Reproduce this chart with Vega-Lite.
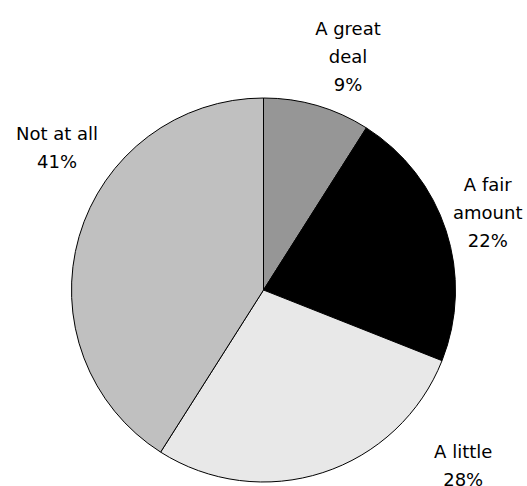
{
  "$schema": "https://vega.github.io/schema/vega-lite/v6.json",
  "width": 527,
  "height": 580,
  "autosize": "none",
  "padding": 0,
  "background": "white",
  "config": {"view": {"stroke": null}},
  "data": {"values": [
    {"answer": "A great deal", "pct": 9, "rank": 1, "label": "A great\ndeal\n9%"},
    {"answer": "A fair amount", "pct": 22, "rank": 2, "label": "A fair\namount\n22%"},
    {"answer": "A little", "pct": 28, "rank": 3, "label": "A little\n28%"},
    {"answer": "Not at all", "pct": 41, "rank": 4, "label": "Not at all\n41%"}
  ]},
  "encoding": {
    "theta": {"field": "pct", "type": "quantitative", "stack": true},
    "order": {"field": "rank", "type": "quantitative"}
  },
  "layer": [
    {
      "mark": {"type": "arc", "outerRadius": 192, "stroke": "black", "strokeWidth": 1},
      "encoding": {
        "color": {"field": "answer", "type": "nominal", "legend": null,
          "scale": {"domain": ["A great deal", "A fair amount", "A little", "Not at all"],
                    "range": ["#969696", "#000000", "#e8e8e8", "#c0c0c0"]}}
      }
    },
    {
      "mark": {"type": "text", "radius": 249, "dx": 15, "dy": -21, "font": "DejaVu Sans", "fontSize": 18, "lineHeight": 28, "lineBreak": "\n", "align": "center", "baseline": "middle", "color": "black"},
      "encoding": {"text": {"condition": {"test": "datum.answer === 'A great deal'", "field": "label"}, "value": ""}}
    },
    {
      "mark": {"type": "text", "radius": 240, "dx": -4, "dy": -30, "font": "DejaVu Sans", "fontSize": 18, "lineHeight": 28, "lineBreak": "\n", "align": "center", "baseline": "middle", "color": "black"},
      "encoding": {"text": {"condition": {"test": "datum.answer === 'A fair amount'", "field": "label"}, "value": ""}}
    },
    {
      "mark": {"type": "text", "radius": 245, "dx": 124, "dy": -70, "font": "DejaVu Sans", "fontSize": 18, "lineHeight": 28, "lineBreak": "\n", "align": "center", "baseline": "middle", "color": "black"},
      "encoding": {"text": {"condition": {"test": "datum.answer === 'A little'", "field": "label"}, "value": ""}}
    },
    {
      "mark": {"type": "text", "radius": 240, "dx": 24, "dy": -88, "font": "DejaVu Sans", "fontSize": 18, "lineHeight": 28, "lineBreak": "\n", "align": "center", "baseline": "middle", "color": "black"},
      "encoding": {"text": {"condition": {"test": "datum.answer === 'Not at all'", "field": "label"}, "value": ""}}
    }
  ]
}
